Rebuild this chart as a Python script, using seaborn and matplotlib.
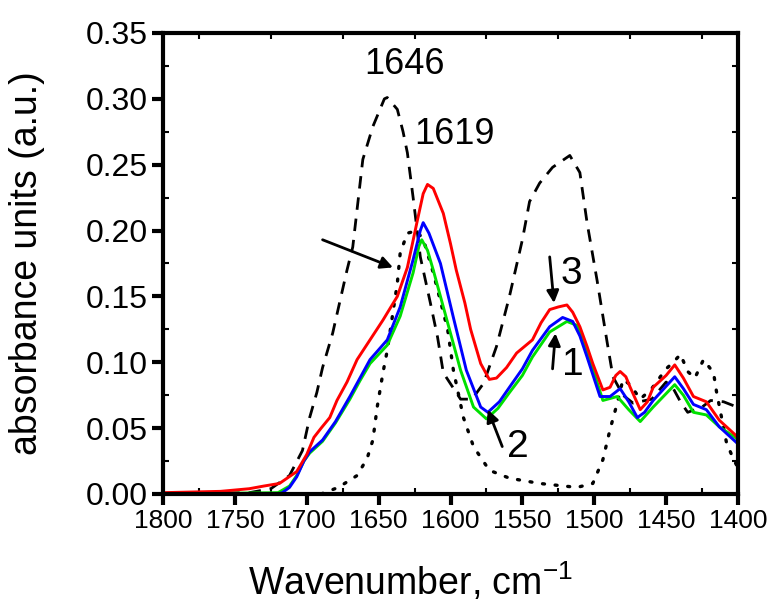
"""
plot.py

IR amide I / amide II region: three sample spectra (1-3) with two
reference band profiles (dashed, dotted). Axis runs high->low wavenumber.
"""

import matplotlib
matplotlib.use("Agg")
import matplotlib.pyplot as plt
from matplotlib.ticker import MultipleLocator
import seaborn as sns

# ---- data (wavenumber, absorbance) ----
red_wn = [1800, 1760, 1740, 1730, 1719, 1707, 1700, 1695, 1690, 1684, 1679, 1672,
          1665, 1656, 1647, 1637, 1630, 1623, 1619, 1616, 1612, 1605, 1600, 1596,
          1590, 1586, 1579, 1573, 1568, 1561, 1554, 1543, 1537, 1531, 1525, 1519,
          1515, 1510, 1505, 1501, 1494, 1489, 1485, 1482, 1478, 1475, 1468, 1463,
          1459, 1450, 1444, 1438, 1431, 1422, 1413, 1402, 1400]
red_abs = [0.001, 0.002, 0.004, 0.006, 0.008, 0.017, 0.030, 0.043, 0.050, 0.058, 0.071, 0.085,
           0.102, 0.117, 0.132, 0.150, 0.172, 0.208, 0.228, 0.235, 0.232, 0.213, 0.190, 0.170,
           0.145, 0.125, 0.099, 0.087, 0.088, 0.096, 0.107, 0.117, 0.130, 0.140, 0.142, 0.1435,
           0.138, 0.127, 0.112, 0.099, 0.079, 0.081, 0.090, 0.093, 0.089, 0.081, 0.064, 0.070,
           0.081, 0.090, 0.098, 0.088, 0.074, 0.070, 0.056, 0.045, 0.042]

blue_wn = [1800, 1720, 1717, 1712, 1707, 1702, 1698, 1689, 1680, 1670, 1663, 1656,
           1644, 1635, 1626, 1621, 1619, 1615, 1607, 1598, 1589, 1579, 1574, 1566,
           1559, 1550, 1543, 1531, 1522, 1515, 1510, 1505, 1496, 1489, 1482, 1476,
           1470, 1465, 1459, 1444, 1438, 1431, 1422, 1413, 1402, 1400]
blue_abs = [0.000, 0.000, 0.001, 0.005, 0.013, 0.025, 0.032, 0.041, 0.055, 0.074, 0.088, 0.102,
            0.117, 0.142, 0.178, 0.200, 0.206, 0.198, 0.175, 0.134, 0.094, 0.066, 0.062, 0.070,
            0.081, 0.095, 0.109, 0.127, 0.134, 0.131, 0.120, 0.104, 0.074, 0.074, 0.080, 0.070,
            0.058, 0.062, 0.071, 0.089, 0.080, 0.068, 0.064, 0.051, 0.040, 0.038]

green_wn = [1800, 1720, 1712, 1707, 1702, 1698, 1689, 1680, 1670, 1663, 1656, 1644,
            1635, 1626, 1622, 1620, 1616, 1612, 1602, 1593, 1584, 1575, 1567, 1559,
            1550, 1543, 1531, 1519, 1512, 1503, 1494, 1484, 1476, 1468, 1459, 1444,
            1438, 1431, 1422, 1413, 1402, 1400]
green_abs = [0.000, 0.001, 0.006, 0.014, 0.025, 0.031, 0.040, 0.054, 0.072, 0.086, 0.099, 0.113,
             0.135, 0.168, 0.188, 0.193, 0.185, 0.170, 0.130, 0.094, 0.066, 0.057, 0.065, 0.077,
             0.090, 0.104, 0.123, 0.131, 0.128, 0.102, 0.071, 0.074, 0.064, 0.055, 0.066, 0.083,
             0.075, 0.062, 0.060, 0.051, 0.043, 0.041]

dash_wn = [1800, 1740, 1725, 1712, 1703, 1698, 1693, 1689, 1682, 1672, 1668, 1661,
           1654, 1646, 1644, 1637, 1633, 1630, 1626, 1621, 1614, 1609, 1605, 1593,
           1585, 1577, 1568, 1559, 1550, 1545, 1538, 1529, 1517, 1510, 1505, 1498,
           1491, 1487, 1480, 1473, 1460, 1450, 1445, 1440, 1435, 1425, 1419, 1410,
           1403, 1400]
dash_abs = [0.000, 0.001, 0.004, 0.014, 0.033, 0.058, 0.077, 0.096, 0.122, 0.170, 0.1875, 0.254,
            0.279, 0.300, 0.301, 0.292, 0.275, 0.259, 0.225, 0.180, 0.145, 0.119, 0.092, 0.072,
            0.072, 0.084, 0.112, 0.150, 0.193, 0.222, 0.236, 0.248, 0.257, 0.244, 0.206, 0.162,
            0.115, 0.089, 0.075, 0.069, 0.072, 0.085, 0.080, 0.070, 0.062, 0.066, 0.071, 0.070,
            0.067, 0.066]

dot_wn = [1690, 1678, 1665, 1658, 1654, 1651, 1647, 1644, 1637, 1635, 1630, 1623,
          1618, 1612, 1602, 1598, 1591, 1584, 1573, 1559, 1538, 1512, 1501, 1494,
          1489, 1484, 1480, 1475, 1468, 1460, 1450, 1445, 1440, 1435, 1430, 1424,
          1417, 1415, 1408, 1403, 1400]
dot_abs = [0.000, 0.005, 0.014, 0.027, 0.041, 0.066, 0.092, 0.109, 0.160, 0.183, 0.198, 0.200,
           0.190, 0.168, 0.125, 0.094, 0.058, 0.036, 0.018, 0.012, 0.008, 0.005, 0.008, 0.026,
           0.049, 0.069, 0.087, 0.083, 0.072, 0.080, 0.095, 0.100, 0.106, 0.093, 0.088, 0.102,
           0.092, 0.078, 0.039, 0.026, 0.020]

x_ticks = [1800, 1750, 1700, 1650, 1600, 1550, 1500, 1450, 1400]
y_ticks = [0.00, 0.05, 0.10, 0.15, 0.20, 0.25, 0.30, 0.35]

sns.set_style("ticks")
plt.rcParams["font.family"] = ["Liberation Sans", "DejaVu Sans"]
plt.rcParams["mathtext.fontset"] = "custom"
plt.rcParams["mathtext.rm"] = "Liberation Sans"
for key in ["text.color", "axes.labelcolor", "xtick.color", "ytick.color"]:
    plt.rcParams[key] = "black"

fig = plt.figure(figsize=(7.73, 6.05), dpi=100)
ax = fig.add_axes([0.2109, 0.1835, 0.7438, 0.762])

line_kw = dict(ax=ax, sort=False, estimator=None, legend=False)
sns.lineplot(x=dot_wn, y=dot_abs, color="black", lw=2.4, linestyle=(0, (0.6, 3.2)),
             dash_capstyle="round", **line_kw)
sns.lineplot(x=dash_wn, y=dash_abs, color="black", lw=2.0, linestyle=(0, (4.5, 3.2)),
             **line_kw)
sns.lineplot(x=green_wn, y=green_abs, color="#00e000", lw=2.1, **line_kw)
sns.lineplot(x=blue_wn, y=blue_abs, color="#0000ff", lw=2.1, **line_kw)
sns.lineplot(x=red_wn, y=red_abs, color="#ff0000", lw=2.1, **line_kw)

ax.set_xlim(1800, 1400)
ax.set_ylim(0, 0.35)
ax.set_xticks(x_ticks)
ax.set_yticks(y_ticks)
ax.set_xticklabels([str(t) for t in x_ticks], fontsize=19)
ax.set_yticklabels([f"{t:.2f}" for t in y_ticks], fontsize=23)
ax.xaxis.set_minor_locator(MultipleLocator(25))
ax.yaxis.set_minor_locator(MultipleLocator(0.025))
ax.tick_params(which="major", direction="out", length=8, width=3, pad=3)
ax.tick_params(which="minor", direction="in", length=4, width=1.5)
ax.tick_params(which="both", top=True, right=True)
ax.tick_params(axis="x", which="major", top=False)
ax.tick_params(axis="y", which="major", right=False)

for side in ["left", "right", "top", "bottom"]:
    ax.spines[side].set_visible(True)
    ax.spines[side].set_linewidth(3.0)
    ax.spines[side].set_color("black")

ax.set_xlabel(r"Wavenumber, cm$^{\mathregular{-1}}$", fontsize=27)
ax.xaxis.set_label_coords(0.43, -0.145)
ax.set_ylabel("absorbance units (a.u.)", fontsize=27)
ax.yaxis.set_label_coords(-0.205, 0.50)

# peak labels and arrows
ax.text(1632, 0.326, "1646", fontsize=26, ha="center", va="center")
ax.text(1597, 0.273, "1619", fontsize=26, ha="center", va="center")
ax.text(1516, 0.167, "3", fontsize=28, ha="center", va="center")
ax.text(1515, 0.098, "1", fontsize=28, ha="center", va="center")
ax.text(1553, 0.036, "2", fontsize=28, ha="center", va="center")

arrow_kw = dict(arrowstyle="-|>", color="black", lw=2, mutation_scale=18, shrinkA=0, shrinkB=0)
ax.annotate("", xy=(1640, 0.172), xytext=(1689, 0.193), arrowprops=arrow_kw)
ax.annotate("", xy=(1528, 0.145), xytext=(1531, 0.180), arrowprops=arrow_kw)
ax.annotate("", xy=(1527, 0.122), xytext=(1529, 0.095), arrowprops=arrow_kw)
ax.annotate("", xy=(1574, 0.064), xytext=(1564, 0.036), arrowprops=arrow_kw)

fig.savefig("out.png", dpi=100)
plt.close(fig)
